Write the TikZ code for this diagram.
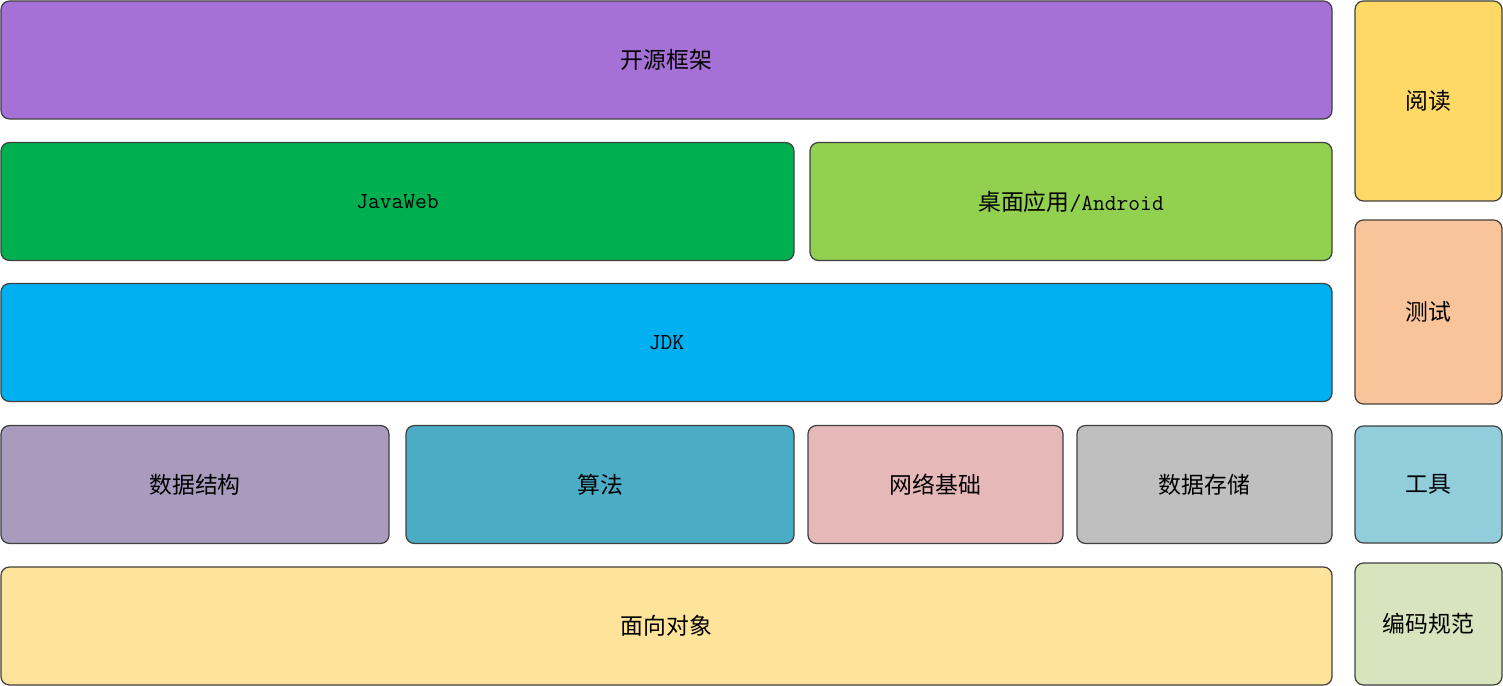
\documentclass[tikz,border=0pt]{standalone}
\usepackage{fontspec}
\setmainfont{Noto Sans CJK SC}
\usepackage{xcolor}
\usepackage{tikz}
\usetikzlibrary{positioning}

\definecolor{cFrame}{HTML}{A671D6}
\definecolor{cWeb}{HTML}{00B050}
\definecolor{cDesk}{HTML}{92D050}
\definecolor{cJdk}{HTML}{00B0F0}
\definecolor{cDs}{HTML}{A99BBD}
\definecolor{cAlgo}{HTML}{4BACC6}
\definecolor{cNet}{HTML}{E6B9B8}
\definecolor{cStore}{HTML}{BFBFBF}
\definecolor{cOop}{HTML}{FEE39A}
\definecolor{cRead}{HTML}{FFD966}
\definecolor{cTest}{HTML}{F9C499}
\definecolor{cTool}{HTML}{92CDDC}
\definecolor{cCode}{HTML}{D7E4BD}

\begin{document}
\begin{tikzpicture}[
  blk/.style={draw=black!75,line width=0.7pt,rounded corners=0.17cm,inner sep=0pt,
    minimum height=2.36cm,align=center,font=\fontsize{13pt}{15pt}\selectfont},
  side/.style={blk,minimum width=2.94cm}
]
\useasboundingbox (0,0) rectangle (30.06,-13.72);

% main layers
\node[blk,fill=cFrame,minimum width=26.62cm] (frame) at (13.33,-1.20) {开源框架};
\node[blk,fill=cWeb,minimum width=15.86cm] (web) at (7.95,-4.03) {\ttfamily JavaWeb};
\node[blk,fill=cDesk,minimum width=10.44cm] (desk) at (21.42,-4.03) {桌面应用\ttfamily/Android};
\node[blk,fill=cJdk,minimum width=26.62cm] (jdk) at (13.33,-6.85) {\ttfamily JDK};
\node[blk,fill=cDs,minimum width=7.76cm] (ds) at (3.90,-9.69) {数据结构};
\node[blk,fill=cAlgo,minimum width=7.76cm] (algo) at (12.00,-9.69) {算法};
\node[blk,fill=cNet,minimum width=5.10cm] (net) at (18.71,-9.69) {网络基础};
\node[blk,fill=cStore,minimum width=5.10cm] (store) at (24.09,-9.69) {数据存储};
\node[blk,fill=cOop,minimum width=26.62cm] (oop) at (13.33,-12.52) {面向对象};

% side column
\node[side,fill=cRead,minimum height=4.00cm] (read) at (28.57,-2.02) {阅读};
\node[side,fill=cTest,minimum height=3.68cm] (test) at (28.57,-6.24) {测试};
\node[side,fill=cTool,minimum height=2.34cm] (tool) at (28.57,-9.69) {工具};
\node[side,fill=cCode,minimum height=2.44cm] (code) at (28.57,-12.48) {编码规范};
\end{tikzpicture}
\end{document}
